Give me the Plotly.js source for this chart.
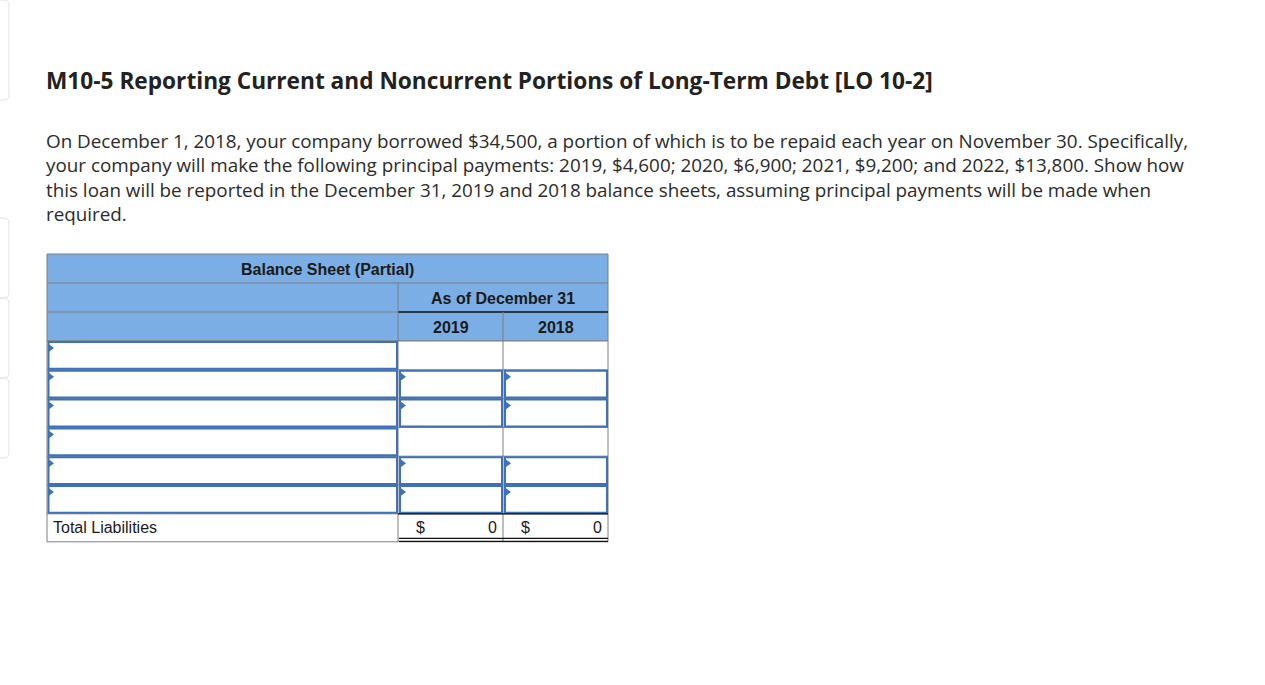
<!DOCTYPE html>
<html>
<head>
<meta charset="utf-8">
<script src="https://cdn.plot.ly/plotly-3.0.1.min.js"></script>
<style>html,body{margin:0;padding:0;background:#fff;overflow:hidden}#chart{width:1265px;height:685px}</style>
</head>
<body>
<div id="chart"></div>
<script>
// ---- content ----
const titleText = "M10-5 Reporting Current and Noncurrent Portions of Long-Term Debt [LO 10-2]";
const paragraphLines = [
  "On December 1, 2018, your company borrowed $34,500, a portion of which is to be repaid each year on November 30. Specifically,",
  "your company will make the following principal payments: 2019, $4,600; 2020, $6,900; 2021, $9,200; and 2022, $13,800. Show how",
  "this loan will be reported in the December 31, 2019 and 2018 balance sheets, assuming principal payments will be made when",
  "required."
];
const tableTitle = "Balance Sheet (Partial)";
const periodHeader = "As of December 31";
const years = ["2019", "2018"];
const inputRowHasValues = [false, true, true, false, true, true];
const totalLabel = "Total Liabilities";
const totalCurrency = ["$", "$"];
const totalValues = [0, 0];

// ---- geometry (pixel space) ----
const W = 1265, H = 685;
const tL = 47, tR = 608, cA = 398, cB = 503;
const hdrTop = 254, hdrRow = 29;
const rowH = 28.8;
const dataTop = hdrTop + 3 * hdrRow;
const totalTop = dataTop + inputRowHasValues.length * rowH;
const totalBot = totalTop + 28;
const hdrFill = "#7aaee5", grid = "#7f7f7f", blue = "#3d72b8";
const textFamily = "Open Sans";
const textFont = "'Open Sans', 'Noto Sans', sans-serif";
const tableFont = "'Liberation Sans', Arial, sans-serif";

// fit a font size so that a string spans a given pixel width
function fitSize(str, weight, family, target, base) {
  const ctx = document.createElement("canvas").getContext("2d");
  ctx.font = `${weight} ${base}px '${family}'`;
  const w = ctx.measureText(str).width;
  return base * target / w;
}
const titleSize = Math.min(25, fitSize(titleText, "bold", textFamily, 887, 22));
const paraSize = Math.min(20, fitSize(paragraphLines[0], "normal", textFamily, 1143, 18));

const shapes = [];
const annotations = [];
function line(x0, y0, x1, y1, color, w) {
  shapes.push({type: "line", xref: "x", yref: "y", x0, y0, x1, y1, line: {color, width: w}});
}
function rect(x0, y0, x1, y1, fill, color, w) {
  shapes.push({type: "rect", xref: "x", yref: "y", x0, y0, x1, y1, fillcolor: fill, line: {color: color, width: w}});
}
function tri(x, y) {
  shapes.push({type: "path", xref: "x", yref: "y", path: `M ${x},${y} L ${x + 6},${y + 4.5} L ${x},${y + 9} Z`, fillcolor: blue, line: {width: 0}});
}
function text(t, x, y, opts) {
  annotations.push(Object.assign({xref: "x", yref: "y", x, y, text: t, showarrow: false, xanchor: "left", yanchor: "middle"}, opts));
}

// faint page-element outlines on the left edge
[[0, 100], [218, 298], [298, 378], [378, 458]].forEach(([a, b]) => {
  shapes.push({type: "path", xref: "x", yref: "y", path: `M -10,${a} L 4,${a} Q 9,${a} 9,${a + 5} L 9,${b - 5} Q 9,${b} 4,${b} L -10,${b}`, line: {color: "#e3e3e3", width: 1}});
});

// title and paragraph (paragraph as one multi-line text block)
text("<b>" + titleText + "</b>", 44, 80, {font: {family: textFont, size: titleSize, color: "#222"}});
text(paragraphLines.join("<br>"), 44, 126, {yanchor: "top", align: "left", font: {family: textFont, size: paraSize, color: "#2b2b2b"}});

// header block
rect(tL, hdrTop, tR, dataTop, hdrFill, grid, 1);
line(tL, hdrTop + hdrRow, tR, hdrTop + hdrRow, grid, 1);
line(tL, hdrTop + 2 * hdrRow, cA, hdrTop + 2 * hdrRow, grid, 1);
line(cA, hdrTop + 2 * hdrRow, tR, hdrTop + 2 * hdrRow, "#111", 1.5);
line(cA, hdrTop + hdrRow, cA, dataTop, grid, 1);
line(cB, hdrTop + 2 * hdrRow, cB, dataTop, grid, 1);
const hf = {family: tableFont, size: 16, color: "#1a1a1a"};
text("<b>" + tableTitle + "</b>", (tL + tR) / 2, hdrTop + hdrRow / 2 + 1, {xanchor: "center", font: hf});
text("<b>" + periodHeader + "</b>", (cA + tR) / 2, hdrTop + 1.5 * hdrRow + 1, {xanchor: "center", font: hf});
years.forEach((y, i) => text("<b>" + y + "</b>", i === 0 ? (cA + cB) / 2 : (cB + tR) / 2, hdrTop + 2.5 * hdrRow + 1, {xanchor: "center", font: hf}));

// data rows grid
rect(tL, dataTop, tR, totalBot, "#ffffff", grid, 1);
line(cA, dataTop, cA, totalBot, grid, 1);
line(cB, dataTop, cB, totalBot, grid, 1);
inputRowHasValues.forEach((hasVals, i) => {
  const y0 = dataTop + i * rowH, y1 = y0 + rowH;
  line(tL, y1, tR, y1, grid, 1);
  rect(tL + 1.5, y0 + 1, cA - 1, y1 - 1, "rgba(0,0,0,0)", blue, 2);
  tri(tL + 1, y0 + 2.5);
  if (hasVals) {
    rect(cA + 2, y0 + 1, cB - 1, y1 - 1, "rgba(0,0,0,0)", blue, 2);
    rect(cB + 2, y0 + 1, tR - 1, y1 - 1, "rgba(0,0,0,0)", blue, 2);
    tri(cA + 2, y0 + 2.5);
    tri(cB + 2, y0 + 2.5);
  }
});
// total row
line(cA, totalTop, tR, totalTop, "#111", 1.2);
line(cA + 1, totalBot - 3.5, tR, totalBot - 3.5, "#111", 1.2);
line(cA + 1, totalBot - 0.5, tR, totalBot - 0.5, "#111", 1.2);
const tf = {family: tableFont, size: 16, color: "#1a1a1a"};
const ty = totalTop + 14;
text(totalLabel, tL + 4, ty, {font: tf});
const cur = [cA, cB], right = [cB, tR];
totalValues.forEach((v, i) => {
  text(totalCurrency[i], cur[i] + 16, ty, {font: tf});
  text(String(v), right[i] - 4, ty, {xanchor: "right", font: tf});
});

const layout = {
  width: W, height: H,
  margin: {l: 0, r: 0, t: 0, b: 0},
  paper_bgcolor: "#fff", plot_bgcolor: "#fff",
  xaxis: {range: [0, W], visible: false, fixedrange: true},
  yaxis: {range: [H, 0], visible: false, fixedrange: true},
  showlegend: false,
  shapes, annotations
};
Plotly.newPlot("chart", [{x: [], y: [], type: "scatter", mode: "markers"}], layout, {displayModeBar: false, staticPlot: true});
</script>
</body>
</html>
